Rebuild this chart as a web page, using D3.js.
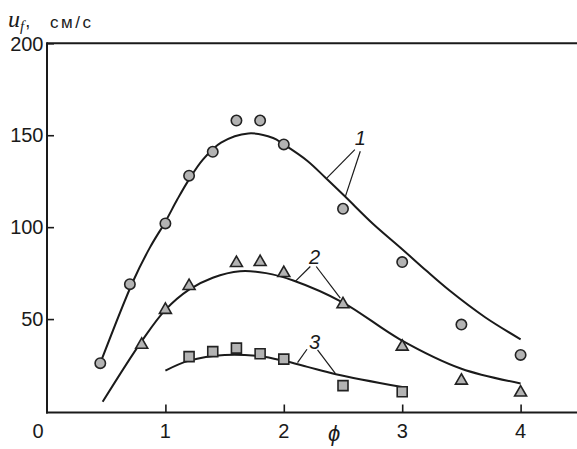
<!DOCTYPE html>
<html><head><meta charset="utf-8">
<script src="https://cdn.jsdelivr.net/npm/d3@7"></script>
<style>
html,body{margin:0;padding:0;background:#fff;}
svg{display:block;}
text{font-family:"Liberation Sans",Arial,sans-serif;fill:#1a1a1a;}
</style></head>
<body>
<svg id="chart" width="577" height="449"></svg>
<script>
// ---- data ----
const xTicks = [1, 2, 3, 4];
const yTicks = [50, 100, 150, 200];
const xLabelZero = "0";

// measured points
const s1x = [0.45, 0.7, 1.0, 1.2, 1.4, 1.6, 1.8, 2.0, 2.5, 3.0, 3.5, 4.0];
const s1y = [26, 69, 102, 128, 141, 158, 158, 145, 110, 81, 47, 30.5];
const s2x = [0.8, 1.0, 1.2, 1.6, 1.8, 2.0, 2.5, 3.0, 3.5, 4.0];
const s2y = [36, 55, 68, 80.5, 81, 75, 58, 35, 16.5, 10];
const s3x = [1.2, 1.4, 1.6, 1.8, 2.0, 2.5, 3.0];
const s3y = [29.6, 32.3, 34.2, 31.1, 28.2, 13.8, 10.5];

// fitted curves
const c1x = [0.45, 0.73, 0.87, 1.0, 1.1, 1.2, 1.32, 1.47, 1.7, 1.91, 2.0, 2.2, 2.35, 2.52, 2.75, 3.0, 3.2, 3.4, 3.7, 4.0];
const c1y = [26, 71, 89, 103, 115, 126, 137, 146, 151, 148.5, 145, 136, 127, 116.5, 102, 88, 76.5, 65.5, 51, 39];
const c2x = [0.47, 0.8, 1.0, 1.2, 1.4, 1.63, 1.85, 2.08, 2.5, 2.98, 3.5, 4.0];
const c2y = [5, 38, 55, 66, 72.5, 76, 75, 71, 59, 39, 23, 15];
const c3x = [1.0, 1.2, 1.5, 1.8, 2.0, 2.2, 2.44, 3.0];
const c3y = [22, 27.4, 30.5, 29.8, 27.3, 24, 20, 13];

// curve labels and leader lines (data units)
const curveLabels = ["1", "2", "3"];
const labelX = [2.646, 2.26, 2.26];
const labelY = [148.8, 84.1, 37.8];
const leaderFromX = [[2.60, 2.646], [2.224, 2.274], [2.196, 2.285]];
const leaderFromY = [[142.2, 141.3], [78.6, 78.6], [33.6, 33.2]];
const leaderToX = [[2.365, 2.519], [2.097, 2.477], [2.116, 2.435]];
const leaderToY = [[126.8, 116.5], [70.5, 61.4], [26.3, 20.5]];

// ---- drawing ----
const svg = d3.select("#chart");
const x = d3.scaleLinear().domain([0, 4.5]).range([47, 579.8]);
const y = d3.scaleLinear().domain([0, 200]).range([411, 43.3]);
const ink = "#1a1a1a";
const fillGray = "#b3b3b3";

// frame lines: top border, left axis, bottom axis
svg.append("line").attr("x1", x(0)).attr("x2", 577).attr("y1", y(200)).attr("y2", y(200))
  .attr("stroke", ink).attr("stroke-width", 2);

const yAxis = d3.axisRight(y).tickValues(yTicks).tickSize(7).tickFormat("");
const gy = svg.append("g").attr("transform", `translate(${x(0)},0)`).call(yAxis);
gy.select(".domain").remove();
gy.selectAll(".tick line").attr("stroke", ink).attr("stroke-width", 1.6);
svg.append("line").attr("x1", x(0)).attr("x2", x(0)).attr("y1", y(200) - 1).attr("y2", y(0) + 2.5)
  .attr("stroke", ink).attr("stroke-width", 2);

const xAxis = d3.axisTop(x).tickValues(xTicks).tickSize(8).tickFormat("");
const gx = svg.append("g").attr("transform", `translate(0,${y(0) + 1.5})`).call(xAxis);
gx.select(".domain").remove();
gx.selectAll(".tick line").attr("stroke", ink).attr("stroke-width", 1.6);
svg.append("line").attr("x1", x(0) - 1).attr("x2", 577).attr("y1", y(0) + 1.5).attr("y2", y(0) + 1.5)
  .attr("stroke", ink).attr("stroke-width", 2);

// tick labels
svg.append("g").selectAll("text").data(yTicks).join("text")
  .attr("x", x(0) - 3.5).attr("y", d => y(d)).attr("text-anchor", "end")
  .attr("dy", "0.36em").attr("font-size", 20).text(d => d);
svg.append("g").selectAll("text").data(xTicks).join("text")
  .attr("x", d => x(d)).attr("y", 438).attr("text-anchor", "middle")
  .attr("font-size", 20).text(d => d);
svg.append("text").attr("x", x(0) - 9).attr("y", 438).attr("text-anchor", "middle")
  .attr("font-size", 20).text(xLabelZero);

// axis titles
svg.append("text").attr("x", 334).attr("y", 441).attr("text-anchor", "middle")
  .attr("font-family", "'Liberation Serif','Times New Roman',serif")
  .attr("font-style", "italic").attr("font-size", 22).text("ϕ");
const yt = svg.append("text").attr("x", 8).attr("y", 27);
yt.append("tspan").attr("font-family", "'Liberation Serif','Times New Roman',serif")
  .attr("font-style", "italic").attr("font-size", 24).text("u");
yt.append("tspan").attr("font-family", "'Liberation Serif','Times New Roman',serif")
  .attr("font-style", "italic").attr("font-size", 15).attr("dy", 4).text("f");
yt.append("tspan").attr("font-size", 18).attr("dy", -4).attr("dx", 1).text(",");
svg.append("text").attr("x", 50).attr("y", 28).attr("font-size", 17)
  .attr("letter-spacing", 2.5).text("см/с");

// curves
const line = d3.line().x(d => x(d[0])).y(d => y(d[1])).curve(d3.curveCatmullRom.alpha(0.5));
[[c1x, c1y], [c2x, c2y], [c3x, c3y]].forEach(([cx, cy]) => {
  svg.append("path").datum(cx.map((v, i) => [v, cy[i]])).attr("d", line)
    .attr("fill", "none").attr("stroke", ink).attr("stroke-width", 2);
});

// leader lines + labels
curveLabels.forEach((lab, k) => {
  for (let j = 0; j < 2; j++) {
    svg.append("line")
      .attr("x1", x(leaderFromX[k][j])).attr("y1", y(leaderFromY[k][j]))
      .attr("x2", x(leaderToX[k][j])).attr("y2", y(leaderToY[k][j]))
      .attr("stroke", ink).attr("stroke-width", 1.2);
  }
  svg.append("text").attr("x", x(labelX[k])).attr("y", y(labelY[k])).attr("dy", "0.36em")
    .attr("text-anchor", "middle").attr("font-style", "italic").attr("font-size", 20).text(lab);
});

// markers
function drawMarkers(xs, ys, type, size) {
  svg.append("g").selectAll("path").data(xs.map((v, i) => [v, ys[i]])).join("path")
    .attr("transform", d => `translate(${x(d[0])},${y(d[1])})`)
    .attr("d", d3.symbol().type(type).size(size))
    .attr("fill", fillGray).attr("stroke", "#222").attr("stroke-width", 1.6);
}
drawMarkers(s1x, s1y, d3.symbolCircle, Math.PI * 5.2 * 5.2);
drawMarkers(s2x, s2y, d3.symbolTriangle, 62);
drawMarkers(s3x, s3y, d3.symbolSquare, 100);
</script>
</body></html>
